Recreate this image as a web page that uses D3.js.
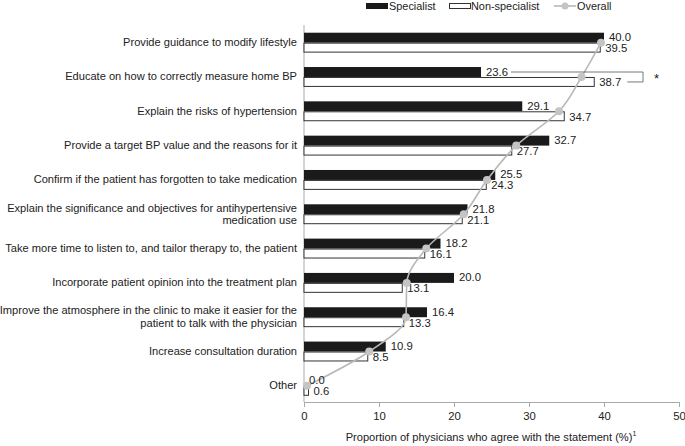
<!DOCTYPE html>
<html><head><meta charset="utf-8">
<script src="https://cdn.jsdelivr.net/npm/d3@7/dist/d3.min.js"></script>
<style>body{margin:0;background:#fff}svg{display:block}text{font-family:"Liberation Sans",Arial,sans-serif;fill:#222}</style>
</head><body><svg id="c" width="685" height="446"></svg>
<script>
const categories = [
  ["Provide guidance to modify lifestyle"],
  ["Educate on how to correctly measure home BP"],
  ["Explain the risks of hypertension"],
  ["Provide a target BP value and the reasons for it"],
  ["Confirm if the patient has forgotten to take medication"],
  ["Explain the significance and objectives for antihypertensive","medication use"],
  ["Take more time to listen to, and tailor therapy to, the patient"],
  ["Incorporate patient opinion into the treatment plan"],
  ["Improve the atmosphere in the clinic to make it easier for the","patient to talk with the physician"],
  ["Increase consultation duration"],
  ["Other"]
];
const specialist = [40.0, 23.6, 29.1, 32.7, 25.5, 21.8, 18.2, 20.0, 16.4, 10.9, 0.0];
const nonSpecialist = [39.5, 38.7, 34.7, 27.7, 24.3, 21.1, 16.1, 13.1, 13.3, 8.5, 0.6];
const overall = [39.6, 37.0, 34.0, 28.3, 24.4, 21.3, 16.3, 13.7, 13.6, 8.7, 0.4];
const xTicks = [0, 10, 20, 30, 40, 50];
const seriesNames = ["Specialist", "Non-specialist", "Overall"];
const xTitle = "Proportion of physicians who agree with the statement (%)";

const svg = d3.select("#c");
const x = d3.scaleLinear().domain([0, 50]).range([304, 679]);
const idx = categories.map((d,i)=>i);
const y = d3.scaleBand().domain(idx).range([25.5, 403]).paddingInner(0.42).paddingOuter(0.21);
const bh = y.bandwidth()/2;
const FS = "11.1px";

// axes
svg.append("line").attr("x1",x(0)).attr("x2",x(0)).attr("y1",25).attr("y2",402).attr("stroke","#aaa");
const xa = svg.append("g").attr("transform","translate(0,402)")
  .call(d3.axisBottom(x).tickValues(xTicks).tickSize(5).tickPadding(5).tickFormat(d3.format("d")));
xa.select(".domain").attr("stroke","#aaa");
xa.selectAll(".tick line").attr("stroke","#aaa");
xa.selectAll("text").attr("font-size","11.3px").attr("fill","#222");

const t = svg.append("text").attr("x",491).attr("y",441).attr("text-anchor","middle").attr("font-size","11.1px");
t.append("tspan").text(xTitle);
t.append("tspan").attr("font-size","7px").attr("dy",-5).text("1");

// category labels
categories.forEach((lines,i)=>{
  const cy = y(i)+bh;
  const n = lines.length;
  const txt = svg.append("text").attr("text-anchor","end").attr("font-size",FS);
  lines.forEach((l,j)=>{
    txt.append("tspan").attr("x",297).attr("y", cy + 3.5 + (j-(n-1)/2)*12.5).text(l);
  });
});

// bars
svg.selectAll(".sb").data(specialist).join("rect")
  .attr("x",x(0)).attr("y",(d,i)=>y(i)).attr("width",d=>x(d)-x(0)).attr("height",bh)
  .attr("fill","#1a1a1a");
svg.selectAll(".nb").data(nonSpecialist).join("rect")
  .attr("x",x(0)).attr("y",(d,i)=>y(i)+bh+0.5).attr("width",d=>x(d)-x(0)).attr("height",bh-1)
  .attr("fill","#fff").attr("stroke","#333").attr("stroke-width",1);

// overall line
const line = d3.line().x(d=>x(d[0])).y(d=>y(d[1])+bh).curve(d3.curveMonotoneY);
svg.append("path").datum(overall.map((v,i)=>[v,i])).attr("d",line)
  .attr("fill","none").attr("stroke","#b8b8b8").attr("stroke-width",1.6);

// value labels
svg.selectAll(".sl").data(specialist).join("text")
  .attr("x",d=>x(d)+5).attr("y",(d,i)=>y(i)+bh/2+3.5).attr("font-size","11.3px").text(d=>d.toFixed(1));
svg.selectAll(".nl").data(nonSpecialist).join("text")
  .attr("x",d=>x(d)+5).attr("y",(d,i)=>y(i)+bh*1.5+4.5).attr("font-size","11.3px").text(d=>d.toFixed(1));

svg.selectAll(".od").data(overall).join("circle")
  .attr("cx",d=>x(d)).attr("cy",(d,i)=>y(i)+bh).attr("r",4).attr("fill","#c4c4c4");

// significance bracket (row 2)
const by1 = y(1)+bh/2, by2 = y(1)+bh*1.5;
svg.append("path")
  .attr("d",`M${x(specialist[1])+30},${by1}H643V${by2}H${x(nonSpecialist[1])+33}`)
  .attr("fill","none").attr("stroke","#555").attr("stroke-width",0.8);
svg.append("text").attr("x",654).attr("y",by1+11).attr("font-size","13px").text("*");

// legend
const lg = svg.append("g");
lg.append("rect").attr("x",366).attr("y",3).attr("width",22).attr("height",6).attr("fill","#1a1a1a");
lg.append("text").attr("x",389).attr("y",10).attr("font-size","10.9px").text(seriesNames[0]);
lg.append("rect").attr("x",449.5).attr("y",3.5).attr("width",21).attr("height",5).attr("fill","#fff").attr("stroke","#333");
lg.append("text").attr("x",471).attr("y",10).attr("font-size","10.9px").text(seriesNames[1]);
lg.append("line").attr("x1",554).attr("x2",576).attr("y1",6).attr("y2",6).attr("stroke","#b8b8b8").attr("stroke-width",1.6);
lg.append("circle").attr("cx",565).attr("cy",6).attr("r",3.5).attr("fill","#c4c4c4");
lg.append("text").attr("x",577).attr("y",10).attr("font-size","10.9px").text(seriesNames[2]);
</script></body></html>
